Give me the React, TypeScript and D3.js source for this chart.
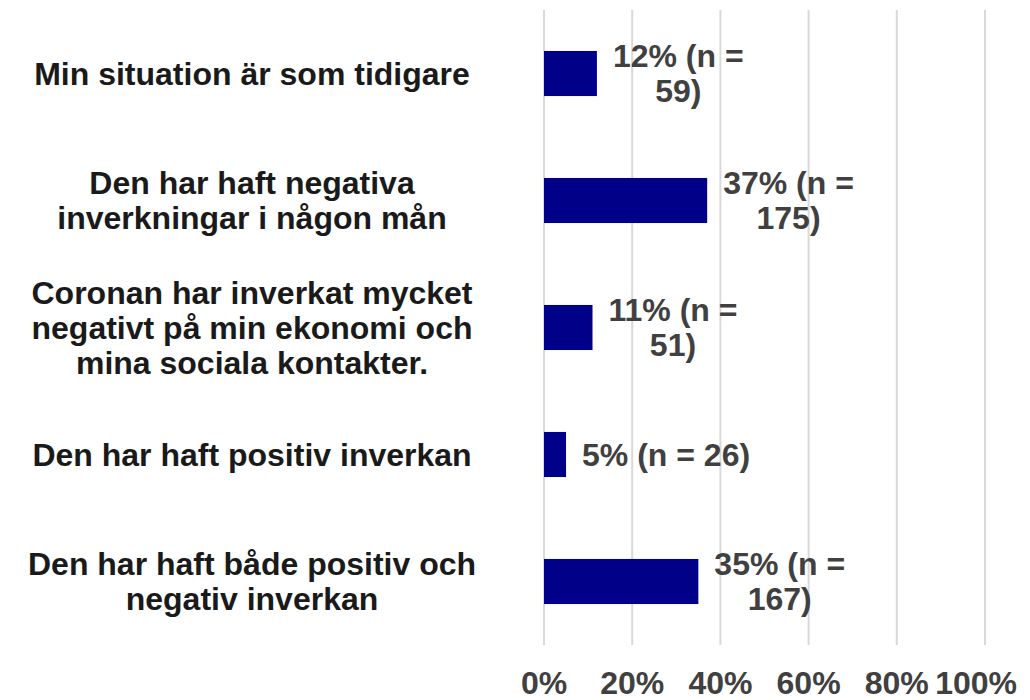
import React from "react";
import * as d3 from "d3";

const categories = [
  "Min situation är som tidigare",
  "Den har haft negativa\ninverkningar i någon mån",
  "Coronan har inverkat mycket\nnegativt på min ekonomi och\nmina sociala kontakter.",
  "Den har haft positiv inverkan",
  "Den har haft både positiv och\nnegativ inverkan",
];
const values = [0.12, 0.37, 0.11, 0.05, 0.35];
const counts = [59, 175, 51, 26, 167];
const wrapLabel = [true, true, true, false, true];
const ticks = [0, 0.2, 0.4, 0.6, 0.8, 1.0];

const FONT = "'Liberation Sans', Arial, sans-serif";
let ctx: CanvasRenderingContext2D | null = null;
function measure(s: string, size: number) {
  if (!ctx) ctx = document.createElement("canvas").getContext("2d");
  if (!ctx) return s.length * size * 0.55;
  ctx.font = `bold ${size}px ${FONT}`;
  return ctx.measureText(s).width;
}

export default function App() {
  const W = 1030, H = 700;
  const x = d3.scaleLinear().domain([0, 1]).range([544, 985]);
  const y = d3.scaleBand<string>().domain(categories).range([10, 645]).paddingInner(0.645).paddingOuter(0.3225);
  const lh = 35;
  const fs = 32;
  const pct = d3.format(".0%");
  return (
    <svg width={W} height={H} style={{ position: "absolute", left: 0, top: 0, background: "#fff" }} fontFamily={FONT}>
      {ticks.map((t) => (
        <line key={t} x1={x(t)} x2={x(t)} y1={10} y2={645} stroke="#d9d9d9" strokeWidth={2} />
      ))}
      {categories.map((c, i) => {
        const cy = (y(c) as number) + y.bandwidth() / 2;
        const lines = c.split("\n");
        const full = `${pct(values[i])} (n = ${counts[i]})`;
        const vl = wrapLabel[i] ? [`${pct(values[i])} (n =`, `${counts[i]})`] : [full];
        const w1 = measure(vl[0], fs);
        const vx = x(values[i]) + 16 + w1 / 2;
        return (
          <g key={c}>
            <rect x={x(0)} y={y(c)} width={x(values[i]) - x(0)} height={y.bandwidth()} fill="#000088" />
            <text textAnchor="middle" fontWeight="bold" fontSize={fs} fill="#1a1a1a">
              {lines.map((l, j) => (
                <tspan key={j} x={252} y={cy + (j - (lines.length - 1) / 2) * lh} dy="0.35em">{l}</tspan>
              ))}
            </text>
            <text textAnchor="middle" fontWeight="bold" fontSize={fs} fill="#404040">
              {vl.map((l, j) => (
                <tspan key={j} x={vx} y={cy + (j - (vl.length - 1) / 2) * lh} dy="0.35em">{l}</tspan>
              ))}
            </text>
          </g>
        );
      })}
      {ticks.map((t) => {
        const s = pct(t);
        const w = measure(s, fs);
        const cx = Math.min(x(t), W - 13 - w / 2);
        return (
          <text key={"l" + t} x={cx} y={694} textAnchor="middle" fontWeight="bold" fontSize={fs} fill="#404040">
            {s}
          </text>
        );
      })}
    </svg>
  );
}
